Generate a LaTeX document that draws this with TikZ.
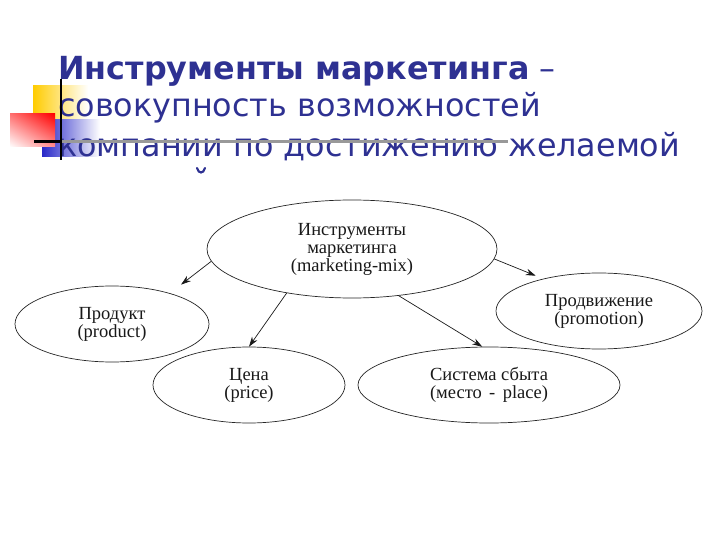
\documentclass[tikz,border=0pt]{standalone}
\usepackage{fontspec}
\setmainfont{Liberation Serif}
\newfontfamily\titlefont{DejaVu Sans}
\usetikzlibrary{shapes.geometric,arrows.meta,shadings}
\definecolor{titleblue}{RGB}{46,49,146}
\definecolor{sqyellow}{RGB}{255,204,0}
\definecolor{sqred}{RGB}{255,0,0}
\definecolor{sqblue}{RGB}{40,40,200}
\tikzset{
  ell/.style={ellipse, draw=black!85, line width=0.7pt, inner sep=0pt, align=center,
              font=\fontsize{18.5}{18}\selectfont, text=black!90},
  arr/.style={-{Stealth[length=10pt,width=6.5pt]}, line width=0.7pt, draw=black!90},
  ttl/.style={anchor=base west, inner sep=0pt, text=titleblue,
              font=\titlefont\fontsize{31.8}{37}\selectfont}
}
\begin{document}
\begin{tikzpicture}[x=1pt,y=-1pt]
\useasboundingbox (0,0) rectangle (720,540);
\fill[white] (0,0) rectangle (720,540);
% decorative squares
\shade[left color=sqyellow, middle color=sqyellow!85, right color=white] (33,86) rectangle (88,128);
\shade[left color=sqblue, middle color=sqblue!75, right color=white] (42,120) rectangle (100,157);
\shade[upper right=sqred, upper left=sqred!55, lower right=sqred!45, lower left=white] (10,114) rectangle (55,147);
% title
\node[ttl] (t1) at (58,80) {\textbf{Инструменты маркетинга} –};
\node[ttl] (t2) at (58,117) {совокупность возможностей};
\node[ttl] (t3) at (58,157) {компании по достижению желаемой};
\draw[titleblue, line width=2.2pt, line cap=round] (197,168) .. controls (198.5,174) and (203.5,174) .. (205,168);
% lines
\draw[black!40, line width=2.5pt] (55,141.5) -- (508,141.5);
\draw[black, line width=2.5pt] (34,141.5) -- (60,141.5);
\draw[black, line width=2pt] (61,79) -- (61,160);
% diagram
\node[ell, minimum width=290pt, minimum height=98pt] (top) at (352,249) {Инструменты\\маркетинга\\(marketing-mix)};
\node[ell, minimum width=194pt, minimum height=76pt] (prod) at (112,324) {Продукт\\(product)};
\node[ell, minimum width=192pt, minimum height=76pt] (price) at (249,385) {Цена\\(price)};
\node[ell, minimum width=206pt, minimum height=76pt] (promo) at (599,311) {Продвижение\\(promotion)};
\node[ell, minimum width=262pt, minimum height=76pt] (place) at (489,385) {Система сбыта\\(место\hspace{0.4em}-\hspace{0.4em}place)};
\draw[arr, shorten >=14pt] (top.185) -- (prod.28);
\draw[arr] (top.214) -- (price.north);
\draw[arr] (top.315) -- (place.100);
\draw[arr, shorten >=8pt] (top.356) -- (promo.150);
\end{tikzpicture}
\end{document}
